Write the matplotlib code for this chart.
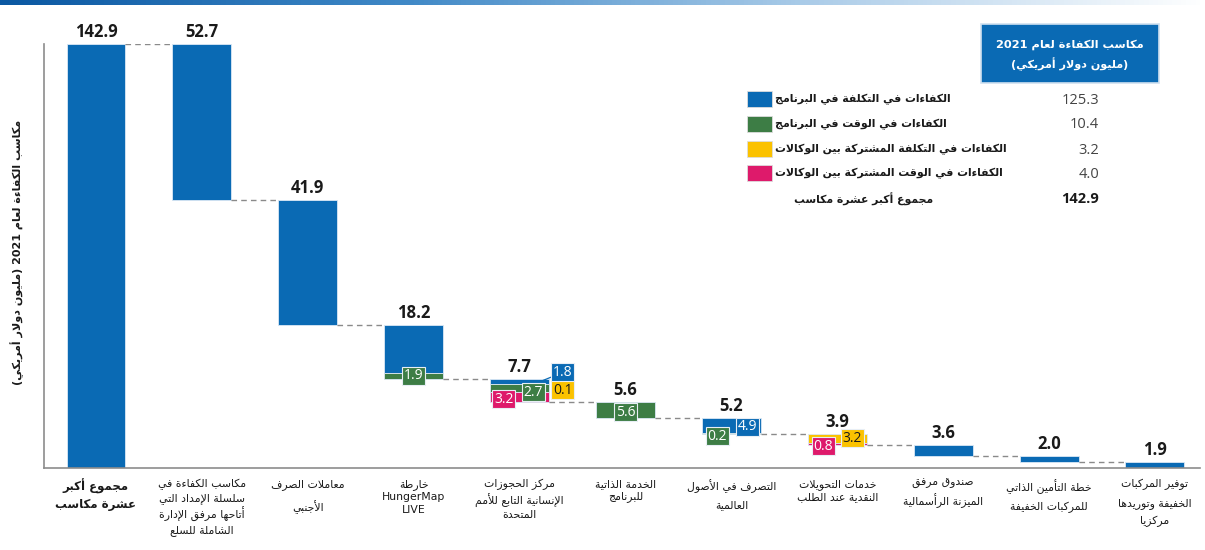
import re
import matplotlib
matplotlib.use('Agg')
import matplotlib.pyplot as plt
import numpy as np
from matplotlib.patches import Rectangle
from matplotlib.colors import LinearSegmentedColormap

# ---- data -------------------------------------------------------------
categories = [
    'مجموع أكبر\nعشرة مكاسب',
    'مكاسب الكفاءة في\nسلسلة الإمداد التي\nأتاحها مرفق الإدارة\nالشاملة للسلع',
    'معاملات الصرف\nالأجنبي',
    'خارطة\nHungerMap\nLIVE',
    'مركز الحجوزات\nالإنسانية التابع للأمم\nالمتحدة',
    'الخدمة الذاتية\nللبرنامج',
    'التصرف في الأصول\nالعالمية',
    'خدمات التحويلات\nالنقدية عند الطلب',
    'صندوق مرفق\nالميزنة الرأسمالية',
    'خطة التأمين الذاتي\nللمركبات الخفيفة',
    'توفير المركبات\nالخفيفة وتوريدها\nمركزيا',
]
totals = [142.9, 52.7, 41.9, 18.2, 7.7, 5.6, 5.2, 3.9, 3.6, 2.0, 1.9]
cost_programme = [0, 52.7, 41.9, 16.3, 1.8, 0, 4.9, 0, 3.6, 2.0, 1.9]
time_programme = [0, 0, 0, 1.9, 2.7, 5.6, 0.2, 0, 0, 0, 0]
cost_interagency = [0, 0, 0, 0, 0.1, 0, 0, 3.2, 0, 0, 0]
time_interagency = [0, 0, 0, 0, 3.2, 0, 0, 0.8, 0, 0, 0]

legend_labels = [
    'الكفاءات في التكلفة في البرنامج',
    'الكفاءات في الوقت في البرنامج',
    'الكفاءات في التكلفة المشتركة بين الوكالات',
    'الكفاءات في الوقت المشتركة بين الوكالات',
]
legend_values = [125.3, 10.4, 3.2, 4.0]
total_label = 'مجموع أكبر عشرة مكاسب'
legend_total = 142.9
box_title = ['مكاسب الكفاءة لعام 2021', '(مليون دولار أمريكي)']
y_title = 'مكاسب الكفاءة لعام 2021 (مليون دولار أمريكي)'

BLUE, GREEN, YELLOW, PINK = '#0a6ab4', '#3d7d45', '#fbc200', '#de1a6b'
comp_colors = [BLUE, GREEN, YELLOW, PINK]
DARK = '#1a1a1a'

# where the small value boxes sit: (bar, component, anchor dx, px dx, px dy, leader)
box_layout = [
    (3, 1, 0.0, 0, 0, False),
    (4, 0, 0.2, 22, 9, True),
    (4, 1, 0.0, 14, -4, False),
    (4, 2, 0.0, 43, 2, False),
    (4, 3, 0.0, -16, -2, False),
    (5, 1, 0.0, 0, -2, False),
    (6, 0, 0.0, 16, -1, False),
    (6, 1, 0.0, -14, -3, False),
    (7, 2, 0.0, 15, 0, False),
    (7, 3, 0.0, -14, -2, False),
]
label_spacing = [1.35, 1.3, 1.9, 1.3, 1.3, 1.3, 1.9, 1.3, 1.3, 1.9, 1.9]


# ---- minimal arabic shaping (matplotlib has no text shaping) ----------
def build_forms():
    spec = [('\u0621', 1), ('\u0622', 2), ('\u0623', 2), ('\u0624', 2),
            ('\u0625', 2), ('\u0626', 4), ('\u0627', 2), ('\u0628', 4),
            ('\u0629', 2)]
    spec += [(chr(c), 4) for c in range(0x062A, 0x062F)]
    spec += [(chr(c), 2) for c in range(0x062F, 0x0633)]
    spec += [(chr(c), 4) for c in range(0x0633, 0x063B)]
    spec += [(chr(c), 4) for c in range(0x0641, 0x0648)]
    spec += [('\u0648', 2), ('\u0649', 2), ('\u064A', 4)]
    table = {}
    code = 0xFE80
    for ch, n in spec:
        table[ch] = [chr(code + k) for k in range(n)]
        code += n
    return table


FORMS = build_forms()
LAM_ALEF = {'\u0622': '\uFEF5\uFEF6', '\u0623': '\uFEF7\uFEF8',
            '\u0625': '\uFEF9\uFEFA', '\u0627': '\uFEFB\uFEFC'}


def shape(line):
    def joins(c):
        return c in FORMS and len(FORMS[c]) > 1

    def dual(c):
        return c in FORMS and len(FORMS[c]) == 4

    out = []
    i = 0
    while i < len(line):
        ch = line[i]
        if ch not in FORMS:
            out.append(ch)
            i += 1
            continue
        prev = line[i - 1] if i > 0 else ''
        nxt = line[i + 1] if i + 1 < len(line) else ''
        link_prev = dual(prev) and joins(ch)
        if ch == '\u0644' and nxt in LAM_ALEF:
            out.append(LAM_ALEF[nxt][1 if link_prev else 0])
            i += 2
            continue
        link_next = dual(ch) and joins(nxt)
        f = FORMS[ch]
        if link_prev and link_next:
            out.append(f[3])
        elif link_prev:
            out.append(f[1])
        elif link_next:
            out.append(f[2])
        else:
            out.append(f[0])
        i += 1
    return ''.join(out)


def ar(text):
    lines = []
    for line in text.split('\n'):
        if not re.search('[\u0600-\u06FF]', line):
            lines.append(line)
            continue
        s = shape(line)[::-1]
        s = re.sub(r'[A-Za-z0-9.]+', lambda m: m.group(0)[::-1], s)
        lines.append(s.translate(str.maketrans('()', ')(')))
    return '\n'.join(lines)


# ---- figure -----------------------------------------------------------
plt.rcParams['font.family'] = ['Open Sans', 'DejaVu Sans']
W, H = 1205, 550
fig = plt.figure(figsize=(W / 100, H / 100), dpi=100)


def fx(px):
    return px / W


def fy(py):
    return 1 - py / H


# gradient strip at the very top
grad = fig.add_axes([0, fy(5), 1, 5 / H])
cmap = LinearSegmentedColormap.from_list('strip', ['#0b58a2', '#3f88c6', '#a9cbe8', '#ffffff'])
grad.imshow(np.linspace(0, 1, 256)[None, :], aspect='auto', cmap=cmap)
grad.axis('off')

ax = fig.add_axes([fx(44), fy(468), fx(1200) - fx(44), fy(44) - fy(468)])
n = len(totals)
w = 0.557

components = [cost_programme, time_programme, cost_interagency, time_interagency]
tops = [totals[0]]
segments = {}
ax.bar(0, totals[0], width=w, color=BLUE, edgecolor='#dbe8f5', linewidth=0.6)
level = totals[0]
for i in range(1, n):
    tops.append(level)
    for c, vals in enumerate(components):
        v = vals[i]
        if v <= 0:
            continue
        ax.bar(i, v, bottom=level - v, width=w, color=comp_colors[c],
               edgecolor='#dbe8f5', linewidth=0.6)
        segments[(i, c)] = (level - v / 2, v)
        level -= v

# dashed connectors
for i in range(n - 1):
    ax.plot([i + w / 2, i + 1 - w / 2], [tops[i + 1]] * 2, color='#8a8a8a',
            lw=1.0, ls=(0, (4, 3)), zorder=1)

# bar totals
for i in range(n):
    ax.annotate(f'{totals[i]:.1f}', xy=(i, tops[i]), xytext=(0, 3),
                textcoords='offset pixels', ha='center', va='bottom',
                fontsize=12, fontweight='bold', color=DARK,
                annotation_clip=False)

# component value boxes
for bar, comp, adx, pdx, pdy, leader in box_layout:
    mid, v = segments[(bar, comp)]
    col = comp_colors[comp]
    arrow = dict(arrowstyle='-', color=col, lw=0.9, shrinkA=0, shrinkB=0) if leader else None
    ax.annotate(f'{v:.1f}', xy=(bar + adx, mid), xytext=(pdx, pdy),
                textcoords='offset pixels', ha='center', va='center',
                fontsize=10, color=DARK if col == YELLOW else 'white',
                bbox=dict(boxstyle='square,pad=0.12', fc=col, ec='#e8eef5', lw=0.8),
                arrowprops=arrow, zorder=5, annotation_clip=False)

ax.set_xlim(-0.491, 10.425)
ax.set_ylim(0, totals[0])
ax.set_xticks([])
ax.set_yticks([])
for side in ['top', 'right']:
    ax.spines[side].set_visible(False)
for side in ['left', 'bottom']:
    ax.spines[side].set_color('#8c8c8c')
    ax.spines[side].set_linewidth(1.2)

# category labels
for i, lab in enumerate(categories):
    ax.annotate(ar(lab), xy=(i, 0), xycoords=('data', 'axes fraction'),
                xytext=(0, -11), textcoords='offset pixels', ha='center', va='top',
                fontsize=8.5 if i == 0 else 7.8, family='DejaVu Sans', color=DARK,
                fontweight='bold' if i == 0 else 'normal',
                linespacing=label_spacing[i], annotation_clip=False)

fig.text(fx(17), fy(252), ar(y_title), rotation=90, ha='center', va='center',
         fontsize=8, fontweight='bold', family='DejaVu Sans', color=DARK)

# legend block
fig.patches.append(Rectangle((fx(981), fy(83)), fx(1159) - fx(981), fy(24) - fy(83),
                             transform=fig.transFigure, fc=BLUE, ec='#cfe0f0', lw=1.2))
fig.text(fx(1070), fy(45), ar(box_title[0]), ha='center', va='center', color='white',
         fontsize=8.2, fontweight='bold', family='DejaVu Sans')
fig.text(fx(1070), fy(64), ar(box_title[1]), ha='center', va='center', color='white',
         fontsize=8, fontweight='bold', family='DejaVu Sans')

row_y = [99, 124, 149, 173]
for k, lab in enumerate(legend_labels):
    fig.patches.append(Rectangle((fx(747), fy(row_y[k] + 8)), 25 / W, 16 / H,
                                 transform=fig.transFigure, fc=comp_colors[k],
                                 ec='#dddddd', lw=0.6))
    fig.text(fx(775), fy(row_y[k]), ar(lab), ha='left', va='center', fontsize=7.8,
             fontweight='bold', family='DejaVu Sans', color=DARK)
    fig.text(fx(1099), fy(row_y[k] + 1), f'{legend_values[k]:.1f}', ha='right',
             va='center', fontsize=10.5, color='#444444')
fig.text(fx(933), fy(199), ar(total_label), ha='right', va='center', fontsize=7.8,
         fontweight='bold', family='DejaVu Sans', color=DARK)
fig.text(fx(1099), fy(199), f'{legend_total:.1f}', ha='right', va='center',
         fontsize=10.5, fontweight='bold', color=DARK)

fig.savefig('out.png', dpi=100)
